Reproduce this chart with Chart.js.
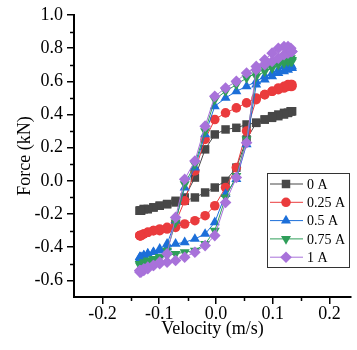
<!DOCTYPE html>
<html>
<head>
<meta charset="utf-8">
<script src="https://cdn.jsdelivr.net/npm/chart.js@4/dist/chart.umd.min.js"></script>
<style>
  html, body { margin: 0; padding: 0; background: #fff; overflow: hidden; }
  #wrap { width: 357px; height: 350px; }
</style>
</head>
<body>
<div id="wrap"><canvas id="loopChart" width="357" height="350"></canvas></div>
<script>
/* Force-velocity hysteresis loops at five coil currents */

// velocity samples (m/s), shared by every loop, ascending
const velocity = [-0.134, -0.132, -0.127, -0.120, -0.110, -0.099, -0.086, -0.071, -0.055, -0.037, -0.019, -0.002,
                  0.017, 0.036, 0.054, 0.071, 0.086, 0.099, 0.110, 0.120, 0.127, 0.132, 0.134];

// force (kN) on the rising-velocity branch, at each velocity above
const rise0 = [-0.18, -0.18, -0.17, -0.17, -0.16, -0.15, -0.14, -0.13, -0.12, -0.10, -0.07, -0.04, 0.00, 0.08, 0.25, 0.35, 0.37, 0.39, 0.40, 0.41, 0.41, 0.42, 0.42];
const rise025 = [-0.33, -0.33, -0.32, -0.31, -0.30, -0.30, -0.29, -0.28, -0.26, -0.24, -0.21, -0.15, -0.04, 0.08, 0.30, 0.49, 0.52, 0.54, 0.55, 0.56, 0.57, 0.57, 0.57];
const rise05 = [-0.46, -0.46, -0.45, -0.44, -0.43, -0.42, -0.40, -0.38, -0.37, -0.35, -0.32, -0.25, -0.08, 0.01, 0.22, 0.58, 0.61, 0.63, 0.65, 0.66, 0.67, 0.68, 0.68];
const rise075 = [-0.50, -0.50, -0.49, -0.48, -0.47, -0.46, -0.45, -0.44, -0.43, -0.42, -0.38, -0.30, -0.10, 0.03, 0.25, 0.63, 0.66, 0.68, 0.70, 0.71, 0.72, 0.72, 0.72];
const rise1 = [-0.54, -0.54, -0.53, -0.52, -0.51, -0.50, -0.49, -0.48, -0.46, -0.43, -0.39, -0.33, -0.13, 0.02, 0.23, 0.67, 0.70, 0.72, 0.74, 0.76, 0.77, 0.78, 0.78];

// force (kN) on the falling-velocity branch, also listed at ascending velocity
const fall0 = [-0.18, -0.18, -0.17, -0.17, -0.16, -0.15, -0.14, -0.12, -0.10, 0.02, 0.19, 0.28, 0.31, 0.32, 0.34, 0.35, 0.37, 0.38, 0.39, 0.40, 0.41, 0.42, 0.42];
const fall025 = [-0.33, -0.33, -0.32, -0.31, -0.30, -0.29, -0.28, -0.25, -0.12, 0.06, 0.25, 0.37, 0.41, 0.44, 0.47, 0.50, 0.52, 0.54, 0.56, 0.57, 0.58, 0.58, 0.58];
const fall05 = [-0.47, -0.46, -0.45, -0.44, -0.43, -0.41, -0.38, -0.24, -0.04, 0.08, 0.28, 0.45, 0.50, 0.54, 0.57, 0.60, 0.63, 0.65, 0.67, 0.69, 0.70, 0.70, 0.69];
const fall075 = [-0.51, -0.51, -0.50, -0.49, -0.48, -0.46, -0.42, -0.25, -0.02, 0.10, 0.30, 0.49, 0.54, 0.58, 0.62, 0.65, 0.68, 0.70, 0.72, 0.73, 0.74, 0.74, 0.73];
const fall1 = [-0.55, -0.55, -0.54, -0.53, -0.51, -0.49, -0.44, -0.22, 0.01, 0.12, 0.33, 0.51, 0.56, 0.60, 0.65, 0.69, 0.73, 0.77, 0.80, 0.81, 0.81, 0.80, 0.78];

const currents = ['0 A', '0.25 A', '0.5 A', '0.75 A', '1 A'];
const xTicks = [-0.2, -0.1, 0, 0.1, 0.2];
const xMinorTicks = [-0.15, -0.05, 0.05, 0.15];
const yTicks = [-0.6, -0.4, -0.2, 0, 0.2, 0.4, 0.6, 0.8, 1.0];
const yMinorTicks = [-0.5, -0.3, -0.1, 0.1, 0.3, 0.5, 0.7, 0.9];

const SERIES_STYLE = [
  { color: '#474747', pointStyle: 'rect', radius: 6, rotation: 0 },
  { color: '#ea3b3d', pointStyle: 'circle', radius: 4.8, rotation: 0 },
  { color: '#1c6fd9', pointStyle: 'triangle', radius: 5.8, rotation: 0 },
  { color: '#2f9e5a', pointStyle: 'triangle', radius: 5.8, rotation: 180 },
  { color: '#a872da', pointStyle: 'rectRot', radius: 5.8, rotation: 0 }
];

const FONT = "'Liberation Serif', 'Times New Roman', serif";
Chart.defaults.font.family = FONT;
Chart.defaults.color = '#000';

// rising branch left to right, then falling branch right to left, then close
function buildLoop(rise, fall) {
  const pts = velocity.map((v, i) => ({ x: v, y: rise[i] }));
  for (let i = velocity.length - 1; i >= 0; i--) pts.push({ x: velocity[i], y: fall[i] });
  pts.push({ x: velocity[0], y: rise[0] });
  return pts;
}

const loops = [
  buildLoop(rise0, fall0),
  buildLoop(rise025, fall025),
  buildLoop(rise05, fall05),
  buildLoop(rise075, fall075),
  buildLoop(rise1, fall1)
];

function fmt(v) {
  return Math.abs(v) < 1e-9 ? '0.0' : v.toFixed(1);
}

// minor ticks + boxed legend inside the plot
const decorations = {
  id: 'decorations',
  afterDraw(chart) {
    const { ctx, scales: { x, y } } = chart;
    ctx.save();
    ctx.strokeStyle = '#000';
    ctx.lineWidth = 1.5;
    ctx.beginPath();
    xMinorTicks.forEach(v => {
      const px = Math.round(x.getPixelForValue(v)) + 0.5;
      ctx.moveTo(px, y.bottom);
      ctx.lineTo(px, y.bottom + 4);
    });
    yMinorTicks.forEach(v => {
      const py = Math.round(y.getPixelForValue(v)) + 0.5;
      ctx.moveTo(x.left, py);
      ctx.lineTo(x.left - 4, py);
    });
    ctx.stroke();

    // legend box
    const bx = 267, by = 173, bw = 82, bh = 94;
    ctx.fillStyle = '#fff';
    ctx.fillRect(bx, by, bw, bh);
    ctx.strokeStyle = '#333';
    ctx.lineWidth = 1;
    ctx.strokeRect(bx + 0.5, by + 0.5, bw, bh);
    ctx.font = '14px ' + FONT;
    ctx.textBaseline = 'middle';
    currents.forEach((label, i) => {
      const st = SERIES_STYLE[i];
      const ry = by + 11 + i * 18.3;
      ctx.strokeStyle = st.color;
      ctx.lineWidth = 1;
      ctx.beginPath();
      ctx.moveTo(bx + 3, ry);
      ctx.lineTo(bx + 36, ry);
      ctx.stroke();
      ctx.fillStyle = st.color;
      Chart.helpers.drawPoint(ctx, {
        pointStyle: st.pointStyle, radius: st.radius, rotation: st.rotation, borderWidth: 0
      }, bx + 19, ry);
      ctx.fillStyle = '#000';
      ctx.fillText(label, bx + 40, ry + 1);
    });
    ctx.restore();
  }
};

new Chart(document.getElementById('loopChart'), {
  type: 'scatter',
  data: {
    datasets: currents.map((label, i) => ({
      label,
      data: loops[i],
      showLine: true,
      borderColor: SERIES_STYLE[i].color,
      backgroundColor: SERIES_STYLE[i].color,
      borderWidth: 1,
      pointStyle: SERIES_STYLE[i].pointStyle,
      pointRotation: SERIES_STYLE[i].rotation,
      pointRadius: SERIES_STYLE[i].radius,
      pointBorderWidth: 0,
      tension: 0,
      order: currents.length - i
    }))
  },
  options: {
    responsive: false,
    animation: false,
    layout: { padding: { top: 15, right: 0, left: 0, bottom: 0 } },
    plugins: { legend: { display: false }, tooltip: { enabled: false } },
    scales: {
      x: {
        type: 'linear',
        min: -0.25,
        max: 0.238,
        afterBuildTicks: s => { s.ticks = xTicks.map(v => ({ value: v })); },
        afterFit: s => { s.height = 53; },
        border: { display: true, color: '#000', width: 2 },
        grid: { display: true, drawOnChartArea: false, color: '#000', lineWidth: 1.5, tickLength: 7 },
        ticks: { color: '#000', font: { size: 18 }, padding: -1, maxRotation: 0, callback: v => fmt(v) },
        title: { display: true, text: 'Velocity (m/s)', color: '#000', font: { size: 18 }, padding: { top: 0, bottom: 10 } }
      },
      y: {
        type: 'linear',
        min: -0.7,
        max: 1.0,
        afterBuildTicks: s => { s.ticks = yTicks.map(v => ({ value: v })); },
        afterFit: s => { s.width = 74; },
        border: { display: true, color: '#000', width: 2 },
        grid: { display: true, drawOnChartArea: false, color: '#000', lineWidth: 1.5, tickLength: 7 },
        ticks: { color: '#000', font: { size: 18 }, padding: 4, callback: v => fmt(v) },
        title: { display: true, text: 'Force (kN)', color: '#000', font: { size: 18 }, padding: { top: 14, bottom: 0 } }
      }
    }
  },
  plugins: [decorations]
});
</script>
</body>
</html>
